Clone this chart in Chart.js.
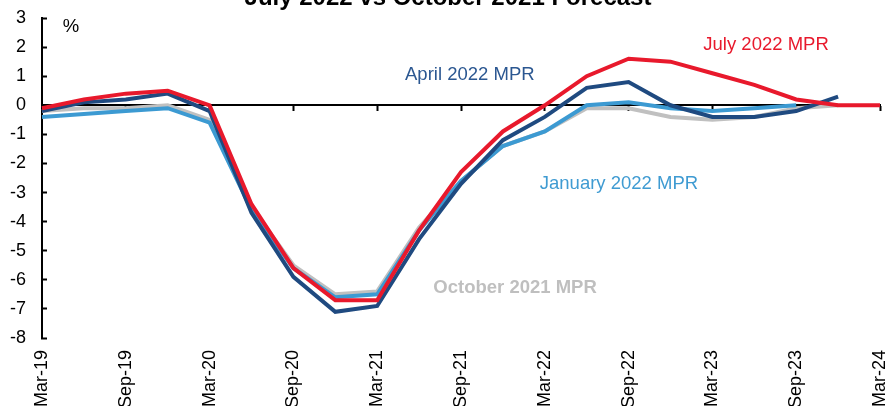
<!DOCTYPE html>
<html>
<head>
<meta charset="utf-8">
<script src="https://cdn.jsdelivr.net/npm/chart.js@4.4.0/dist/chart.umd.min.js"></script>
<style>
  html, body { margin: 0; padding: 0; background: #fff; }
  #wrap { width: 895px; height: 406px; }
</style>
</head>
<body>
<div id="wrap"><canvas id="chart"></canvas></div>
<script>
// Quarterly points, Mar-19 to Mar-24
const quarters = ['Mar-19', 'Jun-19', 'Sep-19', 'Dec-19', 'Mar-20', 'Jun-20', 'Sep-20', 'Dec-20',
    'Mar-21', 'Jun-21', 'Sep-21', 'Dec-21', 'Mar-22', 'Jun-22', 'Sep-22', 'Dec-22',
    'Mar-23', 'Jun-23', 'Sep-23', 'Dec-23', 'Mar-24'];

// Forecast vintages (%)
const july2022 = [-0.1, 0.2, 0.4, 0.5, 0.0, -3.4, -5.6, -6.7, -6.7, -4.3, -2.3, -0.9, 0.0, 1.0, 1.6, 1.5, 1.1, 0.7, 0.2, 0.0, 0.0];
const april2022 = [-0.2, 0.1, 0.2, 0.4, -0.2, -3.7, -5.9, -7.1, -6.9, -4.6, -2.7, -1.2, -0.4, 0.6, 0.8, 0.0, -0.4, -0.4, -0.2, 0.3, null];
const january2022 = [-0.4, -0.3, -0.2, -0.1, -0.6, -3.6, -5.6, -6.6, -6.5, -4.3, -2.6, -1.4, -0.9, 0.0, 0.1, -0.1, -0.2, -0.1, 0.0, null, null];
const october2021 = [-0.2, -0.1, -0.1, 0.0, -0.5, -3.5, -5.5, -6.5, -6.4, -4.2, -2.6, -1.4, -0.9, -0.1, -0.1, -0.4, -0.5, -0.4, -0.1, 0.0, null];

const yMin = -8;
const yMax = 3;

const FONT = "Arial, 'Liberation Sans', sans-serif";
Chart.defaults.font.family = FONT;
Chart.defaults.color = '#000';

// Title (cut off at the top like the original), inline series labels and the % unit
const inlineLabels = {
    id: 'inlineLabels',
    afterDraw(chart) {
        const c = chart.ctx;
        const xs = chart.scales.x;
        const ys = chart.scales.y;
        c.save();
        c.textAlign = 'center';
        c.textBaseline = 'alphabetic';
        c.font = 'bold 24px ' + FONT;
        c.fillStyle = '#000';
        c.fillText('July 2022 vs October 2021 Forecast', 448, 5);

        const items = [
            { text: '%', color: '#000', x: 0.69, y: 2.68, bold: false },
            { text: 'April 2022 MPR', color: '#2B5791', x: 10.21, y: 1.03, bold: false },
            { text: 'July 2022 MPR', color: '#E8192C', x: 17.28, y: 2.06, bold: false },
            { text: 'January 2022 MPR', color: '#3F9BD2', x: 13.77, y: -2.71, bold: false },
            { text: 'October 2021 MPR', color: '#BFBFBF', x: 11.29, y: -6.29, bold: true }
        ];
        c.textBaseline = 'middle';
        items.forEach(it => {
            c.font = (it.bold ? 'bold ' : '') + '18.5px ' + FONT;
            c.fillStyle = it.color;
            c.fillText(it.text, xs.getPixelForValue(it.x), ys.getPixelForValue(it.y));
        });
        c.restore();
    }
};

const ctx = document.getElementById('chart').getContext('2d');
new Chart(ctx, {
    type: 'line',
    data: {
        labels: quarters,
        datasets: [
            { label: 'July 2022 MPR', data: july2022, borderColor: '#E8192C' },
            { label: 'April 2022 MPR', data: april2022, borderColor: '#1F4A80' },
            { label: 'January 2022 MPR', data: january2022, borderColor: '#3C9AD2' },
            { label: 'October 2021 MPR', data: october2021, borderColor: '#C0C0C0' }
        ]
    },
    options: {
        responsive: true,
        maintainAspectRatio: false,
        animation: false,
        layout: { padding: { left: 0, right: 15, top: 18, bottom: 0 } },
        elements: {
            point: { radius: 0 },
            line: { borderWidth: 4, tension: 0, fill: false }
        },
        plugins: {
            legend: { display: false },
            tooltip: { enabled: false },
            title: { display: false }
        },
        scales: {
            x: {
                type: 'category',
                axis: 'x',
                position: { y: 0 },
                ticks: { display: false },
                grid: {
                    drawOnChartArea: false,
                    drawTicks: true,
                    tickLength: 5,
                    tickWidth: 2,
                    tickColor: c => (c.index % 2 === 0 ? '#000' : 'rgba(0,0,0,0)')
                },
                border: { display: true, color: '#000', width: 2 },
                afterFit: s => { s.height = 0; s.paddingLeft = 0; s.paddingRight = 0; }
            },
            x2: {
                type: 'category',
                axis: 'x',
                position: 'bottom',
                grid: { display: false, drawTicks: false },
                border: { display: false },
                ticks: {
                    autoSkip: false,
                    minRotation: 90,
                    maxRotation: 90,
                    padding: 12,
                    font: { size: 18 },
                    callback: (v, i) => (i % 2 === 0 ? quarters[i] : '')
                },
                afterFit: s => { s.height = 68; s.paddingLeft = 0; s.paddingRight = 0; }
            },
            y: {
                min: yMin,
                max: yMax,
                ticks: { stepSize: 1, padding: 21, font: { size: 18 } },
                grid: {
                    drawOnChartArea: false,
                    drawTicks: true,
                    tickLength: -5,
                    tickWidth: 2,
                    tickColor: '#000'
                },
                border: { display: true, color: '#000', width: 2 },
                afterFit: s => { s.width = 42; s.paddingTop = 0; s.paddingBottom = 0; }
            }
        }
    },
    plugins: [inlineLabels]
});
</script>
</body>
</html>
